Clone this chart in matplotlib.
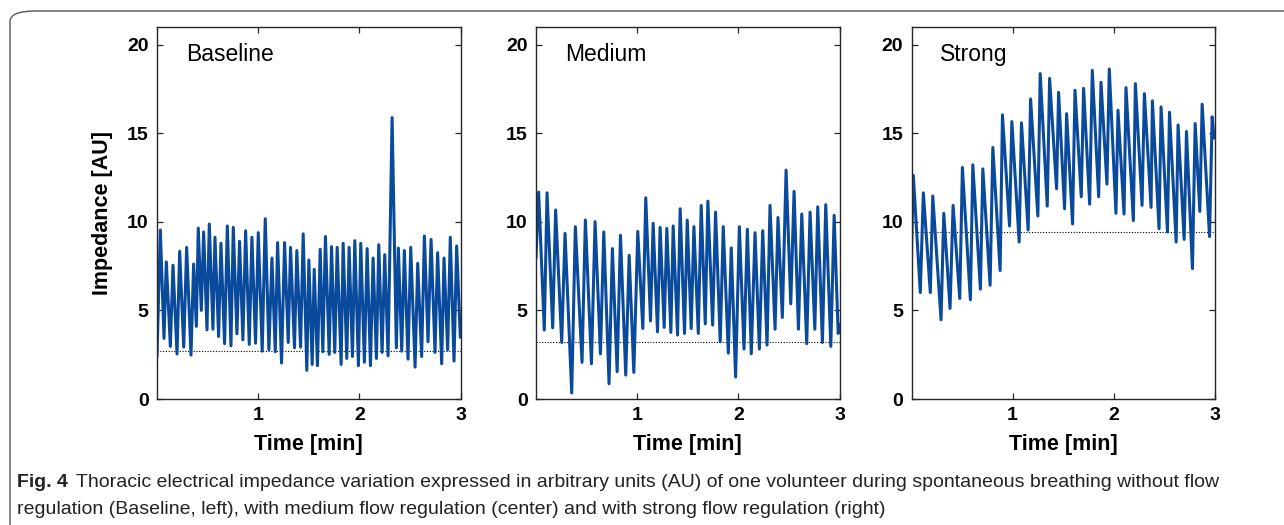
import matplotlib

matplotlib.use("Agg")
import matplotlib.pyplot as plt
from matplotlib.patches import FancyBboxPatch
from matplotlib.text import Annotation

# ── datos (extremos de cada ciclo respiratorio) ──
t_baseline = [
    0.000, 0.033, 0.069, 0.092, 0.132, 0.158, 0.198, 0.224, 0.264, 0.293,
    0.336, 0.362, 0.389, 0.408, 0.438, 0.461, 0.494, 0.517, 0.553, 0.573,
    0.609, 0.632, 0.668, 0.695, 0.731, 0.754, 0.790, 0.816, 0.849, 0.876,
    0.912, 0.938, 0.974, 1.001, 1.040, 1.070, 1.106, 1.136, 1.169, 1.192,
    1.231, 1.261, 1.297, 1.320, 1.359, 1.382, 1.419, 1.445, 1.481, 1.501,
    1.534, 1.554, 1.586, 1.613, 1.639, 1.665, 1.702, 1.725, 1.757, 1.781,
    1.820, 1.840, 1.876, 1.899, 1.932, 1.955, 1.991, 2.014, 2.050, 2.077,
    2.110, 2.136, 2.169, 2.192, 2.225, 2.251, 2.284, 2.324, 2.366, 2.386,
    2.419, 2.445, 2.481, 2.508, 2.551, 2.577, 2.616, 2.643, 2.679, 2.709,
    2.748, 2.774, 2.814, 2.837, 2.873, 2.899, 2.936, 2.962, 2.998,
]
z_baseline = [
    2.44, 9.54, 3.42, 7.74, 2.97, 7.55, 2.54, 8.34, 2.93, 8.56,
    2.48, 7.62, 4.10, 9.65, 5.00, 9.43, 3.90, 9.88, 3.94, 9.13,
    3.53, 8.79, 3.12, 9.77, 3.00, 9.69, 3.68, 8.90, 3.34, 9.50,
    3.08, 9.13, 3.15, 9.39, 2.70, 10.18, 2.78, 7.96, 2.67, 8.83,
    2.03, 8.83, 3.19, 8.56, 2.89, 8.38, 2.93, 9.32, 1.62, 7.85,
    1.95, 7.32, 1.88, 8.45, 2.67, 9.17, 2.52, 8.60, 2.63, 8.56,
    1.95, 8.79, 2.29, 8.56, 2.40, 8.94, 1.88, 8.79, 2.07, 8.49,
    1.88, 7.96, 2.29, 8.71, 2.63, 8.15, 2.44, 15.89, 2.89, 8.52,
    2.70, 8.38, 2.25, 8.56, 1.80, 7.66, 2.40, 9.20, 3.23, 9.01,
    2.63, 8.26, 1.99, 7.96, 2.78, 9.13, 2.14, 8.64, 3.50,
]

t_medium = [
    0.000, 0.026, 0.082, 0.109, 0.165, 0.194, 0.254, 0.287, 0.353, 0.389,
    0.455, 0.488, 0.548, 0.584, 0.637, 0.670, 0.722, 0.755, 0.802, 0.835,
    0.887, 0.921, 0.967, 1.006, 1.056, 1.085, 1.132, 1.158, 1.201, 1.227,
    1.267, 1.293, 1.333, 1.356, 1.399, 1.425, 1.468,
    1.495, 1.534, 1.561, 1.604, 1.633, 1.673, 1.699, 1.746, 1.775, 1.821,
    1.851, 1.901, 1.930, 1.973, 2.010, 2.056, 2.089, 2.128, 2.165, 2.208,
    2.241, 2.284, 2.313, 2.363, 2.392, 2.435, 2.472, 2.518, 2.551, 2.594,
    2.627, 2.676, 2.709, 2.756, 2.785, 2.831, 2.864, 2.914, 2.947, 2.987,
    3.000,
]
z_medium = [
    8.00, 11.68, 3.89, 11.64, 4.02, 10.67, 3.19, 9.35, 0.34, 9.73,
    2.07, 10.10, 1.99, 10.01, 2.55, 9.43, 0.86, 8.49, 1.54, 9.24,
    1.35, 8.11, 1.50, 9.46, 3.98, 11.36, 4.41, 9.92, 3.79, 9.69,
    4.04, 9.63, 3.76, 9.77, 3.61, 10.74, 3.70,
    10.10, 3.98, 9.73, 3.70, 10.93, 4.24, 11.17, 4.17, 10.55, 3.23,
    9.73, 2.59, 8.53, 1.24, 9.73, 2.82, 9.58, 2.55, 9.39, 2.82,
    9.50, 3.04, 10.93, 3.94, 10.25, 4.60, 12.92, 5.37, 11.72, 3.94,
    10.44, 3.12, 10.55, 3.94, 10.85, 3.19, 10.97, 2.97, 10.37, 3.70,
    4.20,
]

t_strong = [
    0.000, 0.018, 0.087, 0.117, 0.186, 0.210, 0.292, 0.319, 0.381, 0.411,
    0.477, 0.503, 0.582, 0.606, 0.681, 0.705, 0.777, 0.804, 0.876, 0.899,
    0.969, 0.992, 1.064, 1.087, 1.153, 1.177, 1.249, 1.272, 1.342, 1.365,
    1.434, 1.454, 1.513,
    1.533, 1.592, 1.616, 1.678, 1.701, 1.761, 1.787, 1.850, 1.873, 1.932,
    1.955, 2.021, 2.041, 2.101, 2.120, 2.193, 2.213, 2.279, 2.302, 2.368,
    2.381, 2.447, 2.467, 2.530, 2.550, 2.616, 2.635, 2.695, 2.718, 2.777,
    2.804, 2.850, 2.873, 2.946, 2.972, 2.990,
]
z_strong = [
    8.26, 12.62, 6.01, 11.64, 6.01, 11.46, 4.47, 10.48, 5.11, 10.93,
    5.67, 13.07, 5.60, 13.22, 6.20, 12.99, 6.42, 14.20, 7.25, 16.04,
    9.77, 15.66, 8.86, 15.59, 9.54, 16.94, 10.33, 18.37, 10.89, 18.10,
    11.87, 17.31, 10.74,
    16.11, 9.88, 17.43, 11.42, 17.54, 11.00, 18.55, 11.42, 17.88, 12.13,
    18.63, 10.48, 16.30, 10.44, 17.58, 10.07, 17.80, 10.93, 17.24, 10.82,
    16.83, 9.61, 16.49, 9.43, 16.19, 8.86, 15.47, 9.01, 15.10, 7.36,
    15.55, 10.59, 16.64, 9.17, 15.93, 14.74,
]

titulos = ["Baseline", "Medium", "Strong"]
referencias = [2.69, 3.19, 9.45]  # línea punteada horizontal
series = [(t_baseline, z_baseline), (t_medium, z_medium), (t_strong, z_strong)]

plt.rcParams["font.family"] = ["Liberation Sans", "DejaVu Sans"]
AZUL = "#0a4a9c"
EJE = "#262626"

fig = plt.figure(figsize=(12.84, 5.25), dpi=100)

# marco redondeado de la figura (sólo se ven el borde superior e izquierdo)
marco = FancyBboxPatch((10 / 1284, -0.2), 1.2, 1.2 - 11 / 525,
                       boxstyle="round,pad=0,rounding_size=0.02",
                       transform=fig.transFigure, fill=False,
                       edgecolor="#555555", lw=1.0, clip_on=False)
fig.patches.append(marco)

izquierdas = [157 / 1284, 536 / 1284, 911.5 / 1284]
ancho = 303.5 / 1284
abajo = 1 - 399 / 525
alto = (399 - 27) / 525

for i, ((t, z), titulo, ref) in enumerate(zip(series, titulos, referencias)):
    ax = fig.add_axes([izquierdas[i], abajo, ancho, alto])
    ax.axhline(ref, color="black", ls=(0, (1, 1.5)), lw=0.8, zorder=1)
    ax.plot(t, z, color=AZUL, lw=2.2, solid_joinstyle="round", zorder=2)
    ax.set_xlim(0, 3)
    ax.set_ylim(0, 21)
    ax.set_xticks([1, 2, 3])
    ax.set_yticks([0, 5, 10, 15, 20])
    ax.tick_params(direction="in", length=4, width=0.9, top=True, right=True,
                   labelsize=14, color=EJE, pad=6)
    for lab in ax.get_xticklabels() + ax.get_yticklabels():
        lab.set_fontweight("bold")
    for s in ax.spines.values():
        s.set_color(EJE)
        s.set_linewidth(1.0)
    ax.set_xlabel("Time [min]", fontsize=15.5, fontweight="bold", labelpad=7)
    if i == 0:
        ax.set_ylabel("Impedance [AU]", fontsize=15.5, fontweight="bold",
                      labelpad=10)
    ax.text(0.095, 0.925, titulo, transform=ax.transAxes, fontsize=16.5,
            va="center", ha="left", color="black")

# pie de figura: "Fig. 4" en negrita y el resto en texto normal
fig_lbl = fig.text(17 / 1284, 1 - 487 / 525, "Fig. 4", fontsize=14,
                   fontweight="bold", va="baseline", ha="left", color="#222222")
pie1 = Annotation("Thoracic electrical impedance variation expressed in "
                  "arbitrary units (AU) of one volunteer during spontaneous "
                  "breathing without flow",
                  xy=(1, 0), xycoords=fig_lbl, xytext=(6, 0),
                  textcoords="offset points", va="bottom", ha="left",
                  fontsize=14, color="#222222")
fig.add_artist(pie1)
fig.text(17 / 1284, 1 - 514 / 525,
         "regulation (Baseline, left), with medium flow regulation (center) and "
         "with strong flow regulation (right)",
         fontsize=14, va="baseline", ha="left", color="#222222")

fig.savefig("out.png", dpi=100)
